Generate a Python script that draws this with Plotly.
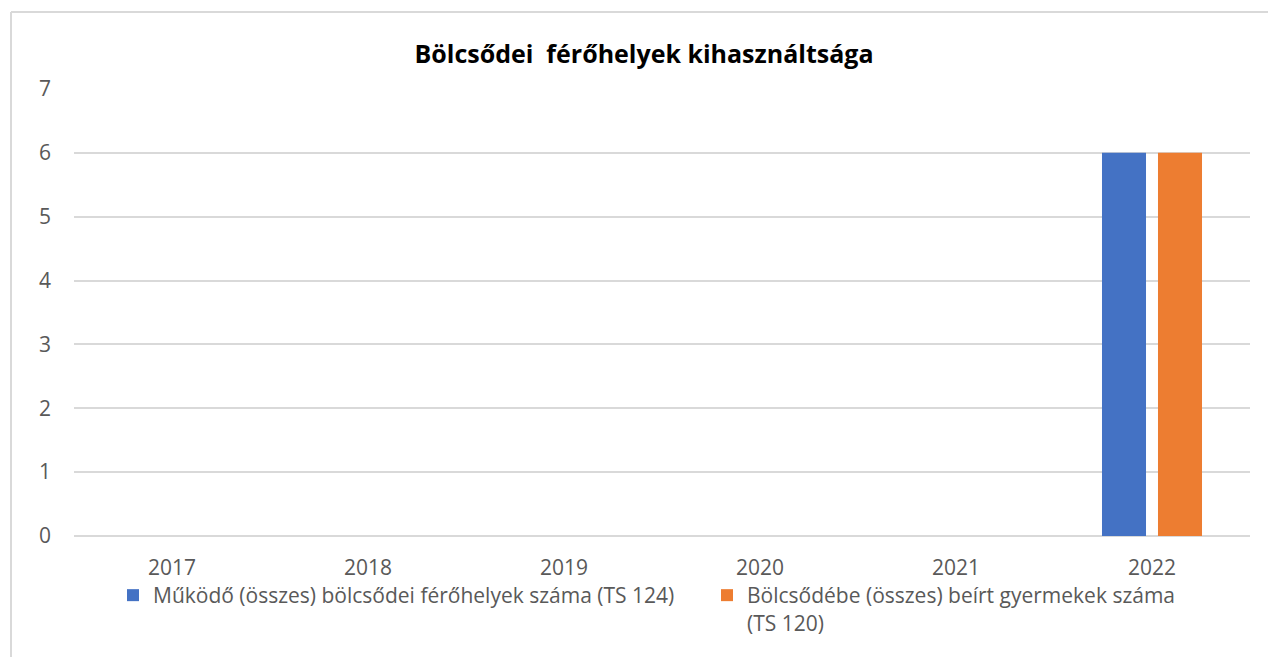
import plotly.graph_objects as go

years = ["2017", "2018", "2019", "2020", "2021", "2022"]
ferohelyek = [None, None, None, None, None, 6]
beirt = [None, None, None, None, None, 6]
name_a = "Működő (összes) bölcsődei férőhelyek száma (TS 124)"
name_b = "Bölcsődébe (összes) beírt gyermekek száma<br>(TS 120)"
title_text = "Bölcsődei\u00a0 férőhelyek kihasználtsága"

W, H = 1268, 657
L, R, T, B = 10, 0, 89, 121
pw, ph = W - L - R, H - T - B

def px(x):
    return (x - L) / pw

def py(y):
    return (H - B - y) / ph

font = "Open Sans, Liberation Sans, sans-serif"

fig = go.Figure()
fig.add_trace(go.Bar(x=years, y=ferohelyek, name=name_a,
                     marker=dict(color="#4472C4", line=dict(width=0))))
fig.add_trace(go.Bar(x=years, y=beirt, name=name_b,
                     marker=dict(color="#ED7D31", line=dict(width=0))))

fig.update_layout(
    width=W, height=H,
    margin=dict(l=L, r=R, t=T, b=B, autoexpand=False),
    paper_bgcolor="white", plot_bgcolor="white",
    barmode="group", bargap=0.4286, bargroupgap=0.214,
    font=dict(family=font, color="#595959", size=21),
    title=dict(text=title_text, x=px(644), xanchor="center", xref="paper",
               y=1 - 54 / H, yanchor="middle",
               font=dict(family=font, size=25, color="#000000", weight="bold")),
    xaxis=dict(domain=[px(74), px(1250)], showgrid=False, showline=False, ticks="",
               zeroline=False, tickfont=dict(size=21, color="#595959"),
               ticklabelstandoff=17),
    yaxis=dict(range=[0, 7], dtick=1, showgrid=True, gridcolor="#D9D9D9", gridwidth=1.5,
               zeroline=True, zerolinecolor="#D9D9D9", zerolinewidth=1.5,
               showline=False, ticks="", tickfont=dict(size=21, color="#595959"),
               ticklabelstandoff=22),
    legend=dict(orientation="h", x=px(113), xanchor="left", y=py(575), yanchor="top",
                entrywidth=549, entrywidthmode="pixels", valign="top",
                font=dict(size=21, color="#595959"), bgcolor="rgba(0,0,0,0)",
                traceorder="normal", itemclick=False),
    showlegend=True,
)

fig.add_shape(type="line", xref="paper", yref="paper",
              x0=px(11), x1=px(W + 5), y0=py(12), y1=py(12),
              line=dict(color="#D9D9D9", width=2))
fig.add_shape(type="line", xref="paper", yref="paper",
              x0=px(11), x1=px(11), y0=py(12), y1=py(H + 5),
              line=dict(color="#D9D9D9", width=2))

fig.write_html("out.html", config={"displayModeBar": False},
               post_script="document.body.style.margin='0px';")
